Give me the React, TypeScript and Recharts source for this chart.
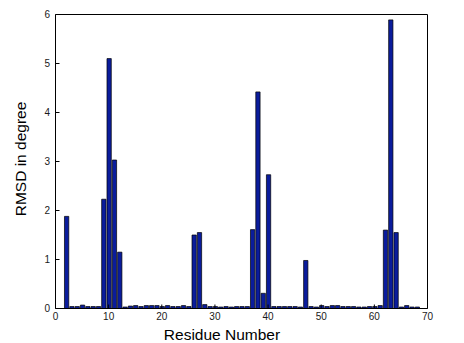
import { BarChart, Bar, XAxis, YAxis, Label } from "recharts";

// residue index and RMSD (degrees)
const residues = [
  2, 3, 4, 5, 6, 7, 8, 9, 10, 11, 12, 13, 14, 15, 16, 17, 18, 19, 20, 21, 22, 23, 24, 25,
  26, 27, 28, 29, 30, 31, 32, 33, 34, 35, 36, 37, 38, 39, 40, 41, 42, 43, 44, 45, 46, 47,
  48, 49, 50, 51, 52, 53, 54, 55, 56, 57, 58, 59, 60, 61, 62, 63, 64, 65, 66, 67, 68,
];
const rmsd = [
  1.88, 0.04, 0.04, 0.07, 0.04, 0.04, 0.04, 2.23, 5.1, 3.03, 1.15, 0.03, 0.05, 0.06, 0.04, 0.06,
  0.06, 0.06, 0.04, 0.06, 0.04, 0.04, 0.06, 0.04, 1.5, 1.55, 0.08, 0.04, 0.04, 0.03, 0.04, 0.03,
  0.04, 0.04, 0.04, 1.61, 4.42, 0.31, 2.73, 0.04, 0.04, 0.04, 0.04, 0.04, 0.03, 0.98, 0.04, 0.03,
  0.06, 0.04, 0.06, 0.06, 0.04, 0.04, 0.04, 0.03, 0.03, 0.04, 0.04, 0.06, 1.6, 5.89, 1.55, 0.03,
  0.06, 0.03, 0.03,
];
const xTicks = [0, 10, 20, 30, 40, 50, 60, 70];
const yTicks = [0, 1, 2, 3, 4, 5, 6];

const data = residues.map((r, i) => ({ residue: r, rmsd: rmsd[i] }));

const tickFont = { fontSize: 10, fill: "#1a1a1a", fontFamily: "Liberation Sans, Arial, sans-serif" };
const labelFont = { fontSize: 15.5, fill: "#000", fontFamily: "Liberation Sans, Arial, sans-serif" };

export default function App() {
  return (
    <div style={{ position: "absolute", left: 0, top: 0, width: 464, height: 343, background: "#fff" }}>
      <BarChart
        width={464}
        height={343}
        data={data}
        margin={{ top: 13.5, right: 35.5, bottom: 33.5, left: 54.5 }}
      >
        <XAxis
          dataKey="residue"
          type="number"
          domain={[0, 70]}
          ticks={xTicks}
          height={1}
          stroke="#000"
          tickSize={-4}
          tickMargin={8.8}
          tick={tickFont}
        >
          <Label value="Residue Number" position="center" dx={-19.5} dy={25} style={labelFont} />
        </XAxis>
        <XAxis
          xAxisId="top"
          orientation="top"
          dataKey="residue"
          type="number"
          domain={[0, 70]}
          ticks={xTicks}
          height={1}
          stroke="#000"
          tickSize={-4}
          tick={false}
        />
        <YAxis
          type="number"
          domain={[0, 6]}
          ticks={yTicks}
          width={1}
          stroke="#000"
          tickSize={-4}
          tickMargin={9.5}
          tick={tickFont}
        >
          <Label value="RMSD in degree" position="center" angle={-90} dx={-34.5} dy={-2.5} style={labelFont} />
        </YAxis>
        <YAxis
          yAxisId="right"
          orientation="right"
          type="number"
          domain={[0, 6]}
          ticks={yTicks}
          width={1}
          stroke="#000"
          tickSize={-4}
          tick={false}
        />
        <Bar
          dataKey="rmsd"
          fill="#0a1c9c"
          stroke="#000"
          strokeWidth={0.7}
          barSize={4.3}
          isAnimationActive={false}
        />
      </BarChart>
    </div>
  );
}
